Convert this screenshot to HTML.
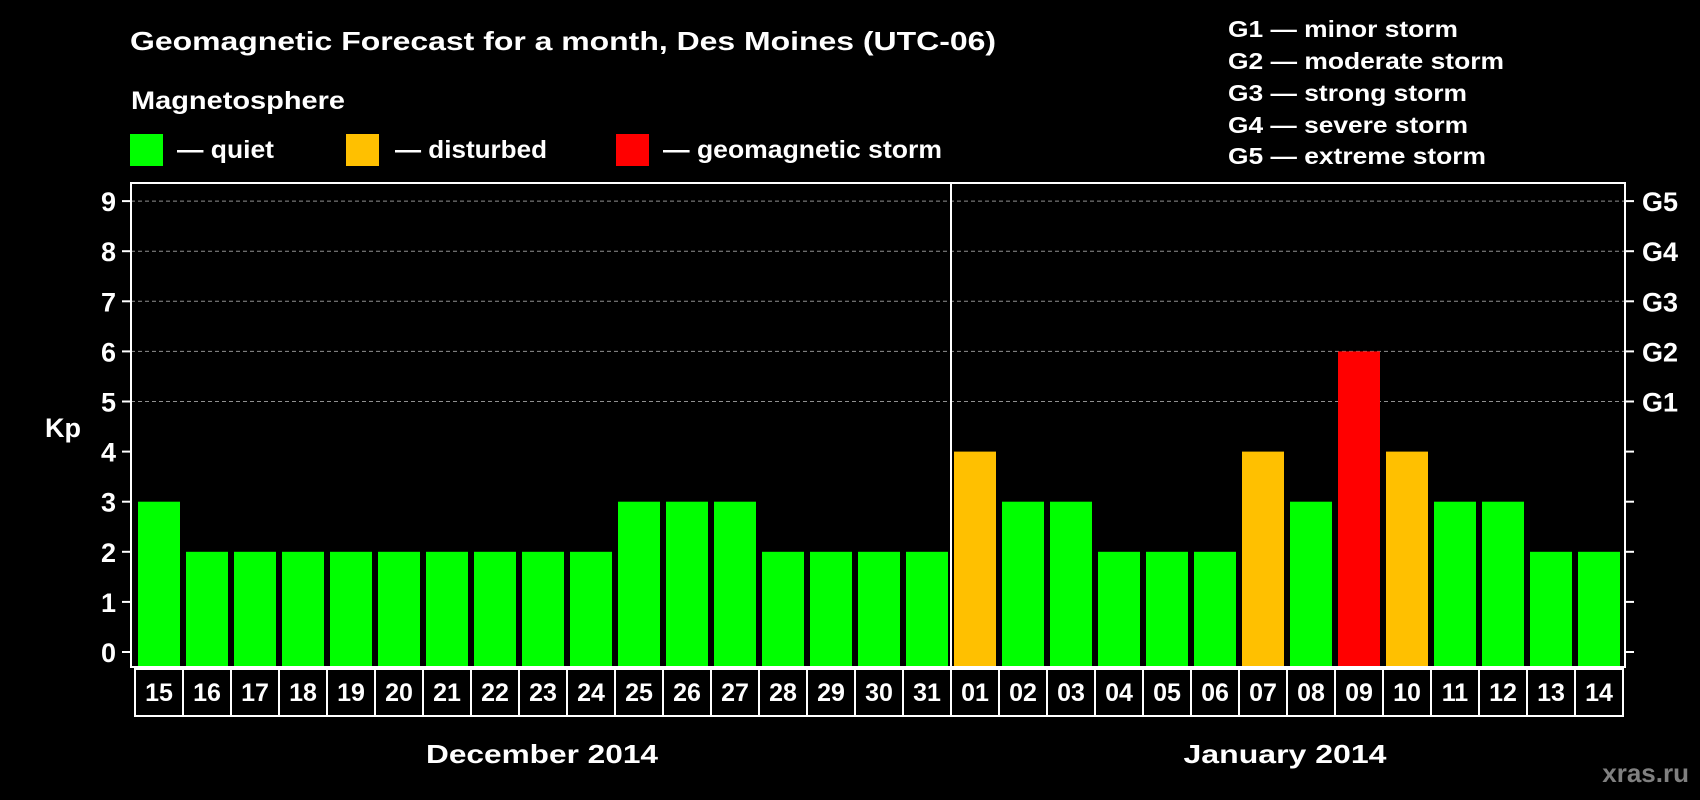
<!DOCTYPE html>
<html><head><meta charset="utf-8"><style>
html,body{margin:0;padding:0;background:#000;width:1700px;height:800px;overflow:hidden}
svg{display:block;font-family:"Liberation Sans",Arial,sans-serif;font-weight:bold}
</style></head><body>
<svg id="chart" width="1700" height="800" viewBox="0 0 1700 800" xmlns="http://www.w3.org/2000/svg">
<rect width="1700" height="800" fill="#000"/>
<text x="130" y="50" fill="#fff" font-size="26" textLength="866" lengthAdjust="spacingAndGlyphs">Geomagnetic Forecast for a month, Des Moines (UTC-06)</text>
<text x="131" y="109" fill="#fff" font-size="25" textLength="214" lengthAdjust="spacingAndGlyphs">Magnetosphere</text>
<g>
<rect x="130" y="134" width="33" height="32" fill="#00ff00"/>
<text x="177" y="158" fill="#fff" font-size="25" textLength="97" lengthAdjust="spacingAndGlyphs">— quiet</text>
<rect x="346" y="134" width="33" height="32" fill="#ffc000"/>
<text x="395" y="158" fill="#fff" font-size="25" textLength="152" lengthAdjust="spacingAndGlyphs">— disturbed</text>
<rect x="616" y="134" width="33" height="32" fill="#ff0000"/>
<text x="663" y="158" fill="#fff" font-size="25" textLength="279" lengthAdjust="spacingAndGlyphs">— geomagnetic storm</text>
</g>
<g fill="#fff" font-size="23">
<text x="1228" y="37" textLength="230" lengthAdjust="spacingAndGlyphs">G1 — minor storm</text>
<text x="1228" y="69" textLength="276" lengthAdjust="spacingAndGlyphs">G2 — moderate storm</text>
<text x="1228" y="101" textLength="239" lengthAdjust="spacingAndGlyphs">G3 — strong storm</text>
<text x="1228" y="133" textLength="240" lengthAdjust="spacingAndGlyphs">G4 — severe storm</text>
<text x="1228" y="164" textLength="258" lengthAdjust="spacingAndGlyphs">G5 — extreme storm</text>
</g>
<text x="63" y="437" fill="#fff" font-size="27" text-anchor="middle">Kp</text>
<g id="plot"></g>
<text x="542" y="763" fill="#fff" font-size="26" text-anchor="middle" textLength="232" lengthAdjust="spacingAndGlyphs">December 2014</text>
<text x="1285" y="763" fill="#fff" font-size="26" text-anchor="middle" textLength="203" lengthAdjust="spacingAndGlyphs">January 2014</text>
<text x="1689" y="782" fill="#808080" font-size="26" text-anchor="end">xras.ru</text>
</svg>
<script>
const days = ["15","16","17","18","19","20","21","22","23","24","25","26","27","28","29","30","31","01","02","03","04","05","06","07","08","09","10","11","12","13","14"];
const kpValues = [3,2,2,2,2,2,2,2,2,2,3,3,3,2,2,2,2,4,3,3,2,2,2,4,3,6,4,3,3,2,2];
const yTicks = [0,1,2,3,4,5,6,7,8,9];
const gLabels = ["G1","G2","G3","G4","G5"];
const gLevels = [5,6,7,8,9];
const monthBreakIndex = 17;

const NS = "http://www.w3.org/2000/svg";
const plot = document.getElementById("plot");
const L = 131, R = 1625, T = 183, B = 667;
const x0 = 138, step = 48, barW = 42;
const y = v => 652 - v * 50.1;
const xs = i => x0 + i * step;
function mk(tag, attrs) { const e = document.createElementNS(NS, tag); for (const k in attrs) e.setAttribute(k, attrs[k]); plot.appendChild(e); return e; }
const colorFor = v => v >= 5 ? "#ff0000" : (v >= 4 ? "#ffc000" : "#00ff00");

// grid lines
gLevels.forEach(v => {
  const g = mk("line", {x1: L, x2: R, y1: y(v), y2: y(v), stroke: "#909090", "stroke-width": 1, "stroke-dasharray": "4,3"});
  
  
});
// bars
kpValues.forEach((v, i) => {
  const b = mk("rect", {x: xs(i), y: y(v), width: barW, height: y(0) - y(v) + 15, fill: colorFor(v)});
  
  
});
// frame
const fr = mk("rect", {x: L, y: T, width: R - L, height: B - T, fill: "none", stroke: "#fff", "stroke-width": 2});


const dv = mk("line", {x1: xs(monthBreakIndex) - 3, x2: xs(monthBreakIndex) - 3, y1: T, y2: B, stroke: "#fff", "stroke-width": 2});


// y ticks
yTicks.forEach(v => {
  const t = mk("line", {x1: 122, x2: L, y1: y(v), y2: y(v), stroke: "#fff", "stroke-width": 2});
  
  
  const t2 = mk("line", {x1: R, x2: 1634, y1: y(v), y2: y(v), stroke: "#fff", "stroke-width": 2});
  
  
  const lb = mk("text", {x: 116, y: y(v) + 10, fill: "#fff", "font-size": 27, "text-anchor": "end"});
  lb.textContent = v;
  
  
});
gLabels.forEach((g, i) => {
  const t = mk("text", {x: 1642, y: y(gLevels[i]) + 10, fill: "#fff", "font-size": 27});
  t.textContent = g;
  
  
});
// day label boxes
days.forEach((d, i) => {
  const bx = mk("rect", {x: xs(i) - 3, y: B + 2, width: step, height: 47, fill: "none", stroke: "#fff", "stroke-width": 2});
  
  
  const t = mk("text", {x: xs(i) + barW / 2, y: 701, fill: "#fff", "font-size": 25, "text-anchor": "middle"});
  t.textContent = d;
  
  
});
</script>
</body></html>
